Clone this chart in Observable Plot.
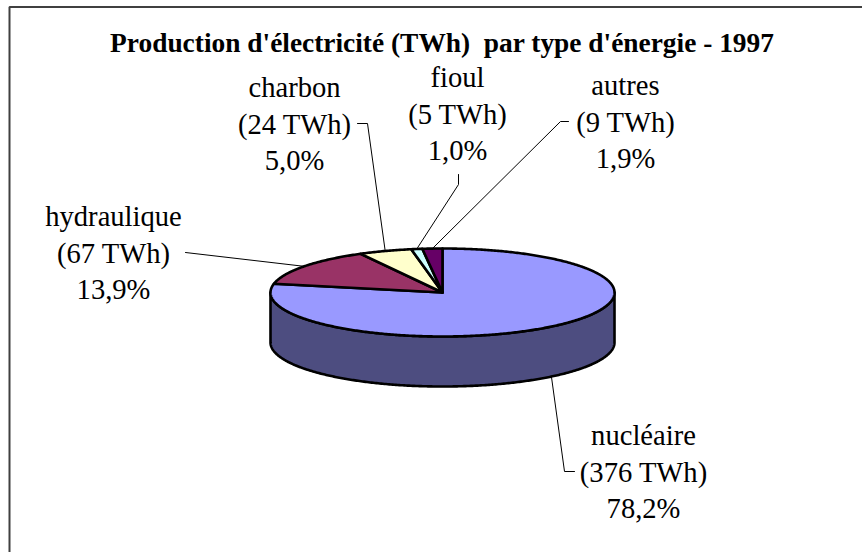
<!DOCTYPE html>
<html>
<head>
<meta charset="utf-8">
<script src="https://cdn.jsdelivr.net/npm/d3@7"></script>
<script src="https://cdn.jsdelivr.net/npm/@observablehq/plot@0.6"></script>
<style>html,body{margin:0;padding:0;background:#fff;overflow:hidden}svg{display:block}</style>
</head>
<body>
<div id="chart"></div>
<script>
const chartTitle = "Production d'électricité (TWh)  par type d'énergie - 1997";
const energies = ["nucléaire", "hydraulique", "charbon", "fioul", "autres"];
const twh = [376, 67, 24, 5, 9];
const percents = ["78,2%", "13,9%", "5,0%", "1,0%", "1,9%"];
const colors = ["#9999ff", "#993366", "#ffffcc", "#ccffff", "#660066"];
const sideColor = "#4d4d80";

// Layout of the page, in pixels
const W = 862, H = 552;
const pie = {cx: 442, cy: 292, rx: 172, ry: 44, depth: 50};
const labelPos = [[643, 469.5], [113, 250.5], [294, 121.5], [457, 111.5], [625, 119.5]];
const elbows = [
  [[564, 471], [574, 471]],
  [[185, 252]],
  [[367, 123], [357, 123]],
  [[458, 184], [458, 174]],
  [[560, 121], [568, 121]]
];

const total = d3.sum(twh);
const toAngle = (v) => (v / total) * 2 * Math.PI;
const rim = (a, dy = 0) => [pie.cx + pie.rx * Math.sin(a), pie.cy - pie.ry * Math.cos(a) + dy];
const arc = (a0, a1, dy = 0) => {
  const n = Math.max(2, Math.ceil((a1 - a0) / 0.01));
  return d3.range(n + 1).map((i) => rim(a0 + ((a1 - a0) * i) / n, dy));
};

let cum = 0;
const slices = energies.map((name, i) => {
  const a0 = toAngle(cum);
  cum += twh[i];
  const a1 = toAngle(cum);
  return {name, a0, a1, mid: (a0 + a1) / 2, color: colors[i],
    label: `${name}\n(${twh[i]} TWh)\n${percents[i]}`, pos: labelPos[i], elbow: elbows[i]};
});

// Visible side wall: the front half of the rim, extruded downward
const front = arc(Math.PI / 2, (3 * Math.PI) / 2);
const sideWall = [...front, ...arc(Math.PI / 2, (3 * Math.PI) / 2, pie.depth).reverse()];

const xy = {x: (d) => d[0], y: (d) => d[1]};
const outline = {stroke: "#000", strokeWidth: 2.6, strokeLinejoin: "round", curve: "linear-closed"};

// Leader lines start on the rim at the slice's middle angle (front slices on the lower edge)
const leader = (s) => {
  const onFront = Math.cos(s.mid) < 0;
  return [rim(s.mid, onFront ? pie.depth : 0), ...s.elbow];
};

// The reference's chart border is cut by the picture: only its top and left edges show
const borderPath = [[9, H], [9, 6.5], [W, 6.5]];

const plot = Plot.plot({
  width: W,
  height: H,
  margin: 0,
  x: {domain: [0, W], range: [0, W], axis: null},
  y: {domain: [0, H], range: [0, H], axis: null},
  style: {background: "#fff"},
  marks: [
    Plot.line(borderPath, {...xy, stroke: "#404040", strokeWidth: 2, strokeLinejoin: "miter"}),
    Plot.line(sideWall, {...xy, fill: sideColor, ...outline}),
    ...slices.map((s) =>
      Plot.line([[pie.cx, pie.cy], ...arc(s.a0, s.a1)], {...xy, fill: s.color, ...outline})
    ),
    ...slices.map((s) =>
      Plot.line(leader(s), {...xy, stroke: "#000", strokeWidth: 1})
    ),
    Plot.text(slices, {
      x: (d) => d.pos[0], y: (d) => d.pos[1], text: "label",
      fontFamily: "Liberation Serif", fontSize: 28.6, lineHeight: 1.276, fill: "#000", lineAnchor: "middle"
    }),
    Plot.text([chartTitle], {
      x: () => 441.5, y: () => 43, text: (d) => d,
      fontFamily: "Liberation Serif", fontSize: 27.4, fontWeight: "bold", fill: "#000"
    })
  ]
});
document.getElementById("chart").append(plot);
</script>
</body>
</html>
